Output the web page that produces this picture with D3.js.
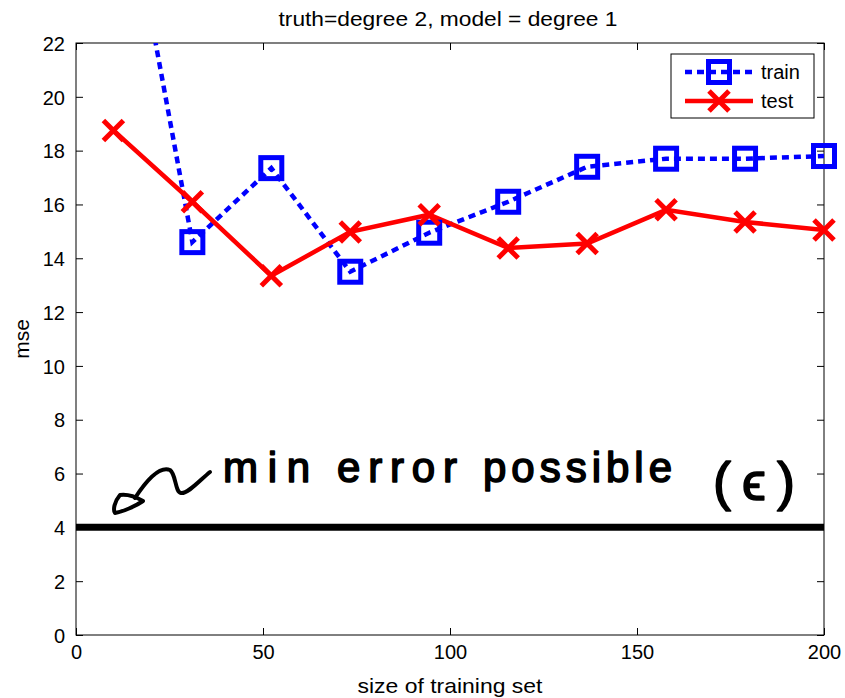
<!DOCTYPE html>
<html><head><meta charset="utf-8">
<script src="https://cdn.jsdelivr.net/npm/d3@7"></script>
<style>body{margin:0;background:#fff}svg{display:block}text{font-family:"Liberation Sans",Arial,sans-serif}</style>
</head><body>
<script>
const trainSizes = [10, 31.11, 52.22, 73.33, 94.44, 115.56, 136.67, 157.78, 178.89, 200];
const trainMse = [30.5, 14.6, 17.35, 13.5, 14.95, 16.1, 17.4, 17.7, 17.7, 17.8];
const testMse  = [18.75, 16.1, 13.35, 14.98, 15.62, 14.38, 14.55, 15.8, 15.35, 15.05];
const minError = 4;
const xTicks = [0, 50, 100, 150, 200];
const yTicks = [0, 2, 4, 6, 8, 10, 12, 14, 16, 18, 20, 22];
const titleText = "truth=degree 2, model = degree 1";
const xLabel = "size of training set";
const yLabel = "mse";
const legendNames = ["train", "test"];
const noteWords = ["min", "error", "possible", "(\u03F5)"];

const W = 845, H = 698;
const m = {l: 76, r: 21, t: 43, b: 63};
const svg = d3.select("body").append("svg").attr("width", W).attr("height", H);
const x = d3.scaleLinear().domain([0, 200]).range([m.l, W - m.r]);
const y = d3.scaleLinear().domain([0, 22]).range([H - m.b, m.t]);

const defs = svg.append("defs");
defs.append("clipPath").attr("id", "clip").append("rect")
  .attr("x", m.l).attr("y", m.t).attr("width", W - m.l - m.r).attr("height", H - m.t - m.b);

svg.append("rect").attr("x", m.l).attr("y", m.t).attr("width", W - m.l - m.r).attr("height", H - m.t - m.b)
  .attr("fill", "none").attr("stroke", "#000").attr("stroke-width", 1);

const tickLen = 7;
const gx = svg.append("g").attr("transform", `translate(0,${H - m.b})`)
  .call(d3.axisBottom(x).tickValues(xTicks).tickSize(-tickLen).tickPadding(9));
const gxTop = svg.append("g").attr("transform", `translate(0,${m.t})`)
  .call(d3.axisTop(x).tickValues(xTicks).tickSize(-tickLen).tickFormat(""));
const gy = svg.append("g").attr("transform", `translate(${m.l},0)`)
  .call(d3.axisLeft(y).tickValues(yTicks).tickSize(-tickLen).tickPadding(11));
const gyR = svg.append("g").attr("transform", `translate(${W - m.r},0)`)
  .call(d3.axisRight(y).tickValues(yTicks).tickSize(-tickLen).tickFormat(""));
[gx, gxTop, gy, gyR].forEach(g => {
  g.select(".domain").remove();
  g.selectAll("line").attr("stroke", "#000").attr("stroke-width", 1);
  g.selectAll("text").attr("font-size", 20).attr("fill", "#000").attr("font-family", "Liberation Sans, Arial, sans-serif");
});
gx.selectAll("text").attr("dy", "0.75em");
gy.selectAll("text").attr("dy", "0.36em");

svg.append("text").attr("x", 448).attr("y", 26).attr("text-anchor", "middle")
  .attr("font-size", 21).attr("textLength", 339).attr("lengthAdjust", "spacingAndGlyphs").text(titleText);
svg.append("text").attr("x", 450).attr("y", 693).attr("text-anchor", "middle")
  .attr("font-size", 21).attr("textLength", 185).attr("lengthAdjust", "spacingAndGlyphs").text(xLabel);
svg.append("text").attr("transform", `translate(29,${(m.t + H - m.b) / 2}) rotate(-90)`)
  .attr("text-anchor", "middle").attr("font-size", 21).text(yLabel);

const plot = svg.append("g").attr("clip-path", "url(#clip)");

plot.append("line").attr("x1", x(0)).attr("x2", x(200)).attr("y1", y(minError)).attr("y2", y(minError))
  .attr("stroke", "#000").attr("stroke-width", 7);

const line = d3.line();
const trainPts = trainSizes.map((s, i) => [x(s), y(trainMse[i])]);
const testPts = trainSizes.map((s, i) => [x(s), y(testMse[i])]);

plot.append("path").attr("d", line(trainPts)).attr("fill", "none").attr("stroke", "#0000ff")
  .attr("stroke-width", 4.5).attr("stroke-dasharray", "7,5");
plot.append("path").attr("d", line(testPts)).attr("fill", "none").attr("stroke", "#ff0000")
  .attr("stroke-width", 4.5);

const sq = 21;
function square(g, cx, cy) {
  g.append("rect").attr("x", cx - sq / 2).attr("y", cy - sq / 2).attr("width", sq).attr("height", sq)
    .attr("fill", "none").attr("stroke", "#0000ff").attr("stroke-width", 5);
}
const cr = 10;
function cross(g, cx, cy) {
  g.append("path").attr("d", `M${cx - cr},${cy - cr}L${cx + cr},${cy + cr}M${cx - cr},${cy + cr}L${cx + cr},${cy - cr}`)
    .attr("stroke", "#ff0000").attr("stroke-width", 5).attr("fill", "none");
}
const markG = svg.append("g");
trainPts.forEach(p => { if (p[1] >= m.t) square(markG, p[0], p[1]); });
testPts.forEach(p => cross(markG, p[0], p[1]));

// legend
const lg = svg.append("g");
lg.append("rect").attr("x", 671).attr("y", 54).attr("width", 143).attr("height", 64)
  .attr("fill", "#fff").attr("stroke", "#000").attr("stroke-width", 1);
lg.append("line").attr("x1", 685).attr("x2", 753).attr("y1", 72).attr("y2", 72)
  .attr("stroke", "#0000ff").attr("stroke-width", 4.5).attr("stroke-dasharray", "7,5");
square(lg, 719, 72);
lg.append("line").attr("x1", 685).attr("x2", 753).attr("y1", 101).attr("y2", 101)
  .attr("stroke", "#ff0000").attr("stroke-width", 4.5);
cross(lg, 719, 101);
lg.append("text").attr("x", 761).attr("y", 79).attr("font-size", 20).text(legendNames[0]);
lg.append("text").attr("x", 761).attr("y", 108).attr("font-size", 20).text(legendNames[1]);

// handwritten annotation
const ink = svg.append("g").attr("fill", "none").attr("stroke", "#000").attr("stroke-width", 4)
  .attr("stroke-linecap", "round").attr("stroke-linejoin", "round");
ink.append("path").attr("d", "M210,472 C200,480 188,494 181,493 C175,492 176,474 170,470 C160,466 148,478 135,498");
ink.append("path").attr("d", "M120,495 C114,502 113,510 115,513 C122,512 136,506 143,501 C136,497 127,494 120,495 Z");

const wordPos = [[223, 87], [337, 120], [483, 189], [713, 82]];
const noteG = svg.append("g").attr("font-family", "DejaVu Sans, sans-serif").attr("fill", "#000")
  .attr("stroke", "#000").attr("stroke-width", 1.6).attr("stroke-linejoin", "round");
noteWords.forEach((w, i) => {
  noteG.append("text").attr("x", wordPos[i][0]).attr("y", i === 3 ? 500 : 482)
    .attr("font-size", i === 3 ? 54 : 42)
    .attr("textLength", wordPos[i][1]).attr("lengthAdjust", "spacing").text(w);
});
</script>
</body></html>
